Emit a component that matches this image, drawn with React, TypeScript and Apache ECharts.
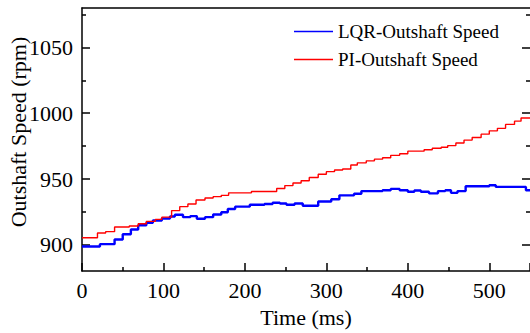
import React, { useEffect, useRef } from "react";
import * as echarts from "echarts";

const lqrTime = [0, 22, 40, 50, 60, 69, 79, 87, 98, 108, 114, 124, 133, 141, 151, 161, 171, 179, 188, 206, 224, 234, 243, 251, 261, 271, 290, 306, 316, 334, 343, 369, 379, 390, 400, 408, 416, 426, 437, 446, 453, 461, 471, 500, 508, 545, 550];
const lqrSpeed = [898.7, 900.5, 904, 908, 911.6, 914.8, 916.8, 918.5, 920, 921.5, 922.8, 921, 921.8, 919.8, 921, 923, 924.7, 927.2, 929, 930.4, 931, 932, 931.4, 930.4, 931.4, 929.7, 932.9, 934.6, 937.6, 938.8, 940.8, 941.5, 942.5, 941.5, 940.3, 941.3, 940.3, 939.1, 940.8, 941.5, 939.5, 940.8, 944.5, 945.3, 944, 941.5, 941.5];

const piTime = [0, 19, 29, 40, 58, 69, 79, 90, 98, 110, 120, 130, 140, 151, 161, 171, 180, 208, 239, 249, 259, 269, 279, 290, 300, 310, 320, 330, 338, 349, 359, 369, 379, 390, 400, 420, 430, 441, 449, 459, 469, 479, 490, 500, 510, 520, 531, 539, 550];
const piSpeed = [905.4, 909, 910, 913.5, 914.3, 916, 917.8, 919.3, 921, 926, 929, 931, 934, 935.6, 936.6, 937.6, 939.5, 940.5, 942.8, 945, 947, 948.7, 951.2, 953.6, 955.6, 956.9, 957.6, 960.6, 962.3, 963.8, 965.1, 966.2, 968, 969.2, 971.2, 972.2, 973.4, 974.2, 975.4, 977.4, 979.6, 981.6, 984.1, 986.6, 988.5, 991.5, 994, 996.4, 996.4];

const seriesNames = ["LQR-Outshaft Speed", "PI-Outshaft Speed"];
const yMajor = [900, 950, 1000, 1050];
const yMinor = [925, 975, 1025, 1075];

const FONT = "Liberation Serif";

export default function App() {
  const ref = useRef<HTMLDivElement>(null);
  useEffect(() => {
    if (!ref.current) return;
    const chart = echarts.init(ref.current, undefined, { renderer: "svg" });
    const axisLine = { show: true, lineStyle: { color: "#000", width: 1.5 } };
    const tickStyle = { color: "#000", width: 1.5 };
    const yBase = { type: "value", min: 880, max: 1080, interval: 10, splitLine: { show: false } };
    chart.setOption({
      animation: false,
      backgroundColor: "#fff",
      textStyle: { fontFamily: FONT, color: "#000" },
      grid: { left: 82, top: 8, width: 449, height: 268, containLabel: false },
      legend: {
        data: seriesNames,
        orient: "vertical",
        left: 289,
        top: 17,
        icon: "rect",
        itemWidth: 39,
        itemHeight: 1.5,
        itemGap: 9,
        lineStyle: { width: 1.5 },
        textStyle: { fontFamily: FONT, fontSize: 19, color: "#000" },
      },
      xAxis: [
        {
          type: "value",
          position: "bottom",
          min: 0,
          max: 550,
          interval: 100,
          axisLine,
          axisTick: { show: true, inside: true, length: 8, lineStyle: tickStyle },
          minorTick: { show: true, splitNumber: 2, length: 4, lineStyle: tickStyle },
          axisLabel: { fontFamily: FONT, fontSize: 22, color: "#000", margin: 8, showMaxLabel: false },
          splitLine: { show: false },
          minorSplitLine: { show: false },
          name: "Time (ms)",
          nameLocation: "middle",
          nameGap: 34,
          nameTextStyle: { fontFamily: FONT, fontSize: 22, color: "#000" },
        },
        {
          type: "value",
          position: "top",
          min: 0,
          max: 550,
          axisLine,
          axisTick: { show: false },
          axisLabel: { show: false },
          splitLine: { show: false },
        },
      ],
      yAxis: [
        {
          ...yBase,
          position: "left",
          axisLine,
          axisTick: { show: true, inside: true, length: 8, customValues: yMajor, lineStyle: tickStyle },
          axisLabel: {
            fontFamily: FONT,
            fontSize: 22,
            color: "#000",
            margin: 9,
            formatter: (v: number) => (yMajor.indexOf(v) >= 0 ? String(v) : ""),
          },
        },
        {
          ...yBase,
          position: "left",
          axisLine: { show: false },
          axisTick: { show: true, inside: true, length: 4, customValues: yMinor, lineStyle: tickStyle },
          axisLabel: { show: false },
        },
        {
          ...yBase,
          position: "right",
          axisLine: { show: false },
          axisTick: { show: true, inside: true, length: 8, customValues: yMajor, lineStyle: tickStyle },
          axisLabel: { show: false },
        },
        {
          ...yBase,
          position: "right",
          axisLine: { show: false },
          axisTick: { show: true, inside: true, length: 4, customValues: yMinor, lineStyle: tickStyle },
          axisLabel: { show: false },
        },
      ],
      graphic: [
        {
          type: "text",
          x: 18,
          y: 132,
          rotation: Math.PI / 2,
          style: {
            text: "Outshaft Speed (rpm)",
            align: "center",
            verticalAlign: "middle",
            font: "22px 'Liberation Serif'",
            fill: "#000",
          },
        },
      ],
      series: [
        {
          name: seriesNames[0],
          type: "line",
          step: "end",
          symbol: "none",
          data: lqrTime.map((t, i) => [t, lqrSpeed[i]]),
          lineStyle: { color: "#0000ff", width: 2.4 },
          itemStyle: { color: "#0000ff" },
        },
        {
          name: seriesNames[1],
          type: "line",
          step: "end",
          symbol: "none",
          data: piTime.map((t, i) => [t, piSpeed[i]]),
          lineStyle: { color: "#ff0000", width: 1.4 },
          itemStyle: { color: "#ff0000" },
        },
      ],
    });
    return () => chart.dispose();
  }, []);
  return <div ref={ref} style={{ position: "fixed", left: 0, top: 0, width: 530, height: 333 }} />;
}
